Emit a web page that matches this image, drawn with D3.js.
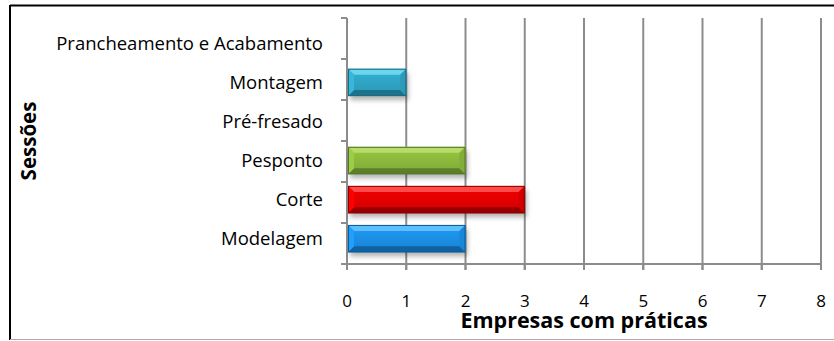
<!DOCTYPE html>
<html>
<head>
<meta charset="utf-8">
<script src="https://cdn.jsdelivr.net/npm/d3@7"></script>
<style>
  html, body { margin: 0; padding: 0; background: #fff; }
  svg { display: block; }
  text { font-family: "Open Sans", Lato, sans-serif; fill: #000; }
</style>
</head>
<body>
<svg id="chart" width="834" height="341"></svg>
<script>
// Sessions, bottom to top
const categories = ["Modelagem", "Corte", "Pesponto", "Pré-fresado", "Montagem", "Prancheamento e Acabamento"];
const values = [2, 3, 2, 0, 1, 0];
const faceColors = ["#1b8de2", "#df0000", "#8ab63b", "#888888", "#2fa2c2", "#888888"];
const lightColors = ["#5cc0ff", "#ff4a4a", "#b6dc6a", "#bbbbbb", "#6ad6ee", "#bbbbbb"];
const darkColors = ["#0f5a99", "#8c0000", "#56772a", "#555555", "#1c6b82", "#555555"];
const xTicks = [0, 1, 2, 3, 4, 5, 6, 7, 8];
const xTitle = "Empresas com práticas";
const yTitle = "Sessões";

const svg = d3.select("#chart");

// frame of the chart area
svg.append("line").attr("x1", 10).attr("x2", 834).attr("y1", 5.5).attr("y2", 5.5)
  .attr("stroke", "#000").attr("stroke-width", 2);
svg.append("line").attr("x1", 10).attr("x2", 10).attr("y1", 5).attr("y2", 340)
  .attr("stroke", "#000").attr("stroke-width", 2);
svg.append("line").attr("x1", 10).attr("x2", 834).attr("y1", 339.5).attr("y2", 339.5)
  .attr("stroke", "#aaa").attr("stroke-width", 1);

const pLeft = 347, pRight = 821, pTop = 18, pBottom = 264;

const x = d3.scaleLinear().domain([0, 8]).range([pLeft, pRight]);
const y = d3.scaleBand().domain(categories.slice().reverse()).range([pTop, pBottom]).padding(0.3);
const yEdges = d3.scaleLinear().domain([0, categories.length]).range([pBottom, pTop]);

const defs = svg.append("defs");
const shadow = defs.append("filter").attr("id", "shadow")
  .attr("x", "-10%").attr("y", "-20%").attr("width", "130%").attr("height", "180%");
shadow.append("feGaussianBlur").attr("in", "SourceAlpha").attr("stdDeviation", 2.5);
shadow.append("feOffset").attr("dx", 2).attr("dy", 4).attr("result", "off");
shadow.append("feComponentTransfer").append("feFuncA").attr("type", "linear").attr("slope", 0.3);

// gridlines
svg.append("g").selectAll("line").data(xTicks.filter(d => d > 0)).join("line")
  .attr("x1", d => x(d)).attr("x2", d => x(d))
  .attr("y1", pTop).attr("y2", pBottom + 6)
  .attr("stroke", "#8c8c8c").attr("stroke-width", 2);

// value axis line and ticks
svg.append("line").attr("x1", pLeft - 6).attr("x2", pRight + 1).attr("y1", pBottom).attr("y2", pBottom)
  .attr("stroke", "#8c8c8c").attr("stroke-width", 2);
svg.append("g").selectAll("line").data(xTicks).join("line")
  .attr("x1", d => x(d)).attr("x2", d => x(d)).attr("y1", pBottom).attr("y2", pBottom + 6)
  .attr("stroke", "#8c8c8c").attr("stroke-width", 2);

// category axis line and ticks
svg.append("line").attr("x1", pLeft).attr("x2", pLeft).attr("y1", pTop).attr("y2", pBottom + 6)
  .attr("stroke", "#8c8c8c").attr("stroke-width", 2);
svg.append("g").selectAll("line").data(d3.range(categories.length + 1)).join("line")
  .attr("x1", pLeft - 6).attr("x2", pLeft).attr("y1", d => yEdges(d)).attr("y2", d => yEdges(d))
  .attr("stroke", "#8c8c8c").attr("stroke-width", 2);

// beveled bars
const data = categories.map((c, i) => ({ c, v: values[i], i }));
const bars = svg.append("g").selectAll("g").data(data.filter(d => d.v > 0)).join("g");
const bev = 6;

bars.append("rect")
  .attr("x", pLeft + 1).attr("y", d => y(d.c))
  .attr("width", d => x(d.v) - pLeft - 1).attr("height", y.bandwidth())
  .attr("fill", "#000").attr("filter", "url(#shadow)");

bars.each(function (d) {
  const g = d3.select(this);
  const x0 = pLeft + 1, x1 = x(d.v), y0 = y(d.c), y1 = y(d.c) + y.bandwidth();
  const gid = "face" + d.i;
  const lg = defs.append("linearGradient").attr("id", gid).attr("x1", 0).attr("x2", 0).attr("y1", 0).attr("y2", 1);
  lg.append("stop").attr("offset", "0%").attr("stop-color", d3.color(faceColors[d.i]).brighter(0.25));
  lg.append("stop").attr("offset", "100%").attr("stop-color", d3.color(faceColors[d.i]).darker(0.2));

  // face
  g.append("rect").attr("x", x0).attr("y", y0).attr("width", x1 - x0).attr("height", y1 - y0)
    .attr("fill", `url(#${gid})`);
  // top bevel
  g.append("polygon").attr("points", [[x0, y0], [x1, y0], [x1 - bev, y0 + bev], [x0 + bev, y0 + bev]].join(" "))
    .attr("fill", lightColors[d.i]);
  // bottom bevel
  g.append("polygon").attr("points", [[x0, y1], [x1, y1], [x1 - bev, y1 - bev], [x0 + bev, y1 - bev]].join(" "))
    .attr("fill", darkColors[d.i]).attr("opacity", 0.85);
  // side bevels
  g.append("polygon").attr("points", [[x0, y0], [x0 + bev, y0 + bev], [x0 + bev, y1 - bev], [x0, y1]].join(" "))
    .attr("fill", d3.color(faceColors[d.i]).brighter(0.35));
  g.append("polygon").attr("points", [[x1, y0], [x1 - bev, y0 + bev], [x1 - bev, y1 - bev], [x1, y1]].join(" "))
    .attr("fill", d3.color(faceColors[d.i]).darker(0.15));
  // outline
  g.append("rect").attr("x", x0 + 0.5).attr("y", y0 + 0.5).attr("width", x1 - x0 - 1).attr("height", y1 - y0 - 1)
    .attr("fill", "none").attr("stroke", darkColors[d.i]).attr("stroke-width", 1);
});

// category labels
svg.append("g").selectAll("text").data(categories).join("text")
  .attr("x", 323).attr("y", d => y(d) + y.bandwidth() / 2 + 6.5)
  .attr("text-anchor", "end")
  .style("font-size", "18.5px").text(d => d);

// value labels
svg.append("g").selectAll("text").data(xTicks).join("text")
  .attr("x", d => x(d)).attr("y", 307).attr("text-anchor", "middle")
  .style("font-size", "17px").text(d => d);

// axis titles
svg.append("text").attr("x", 584).attr("y", 328).attr("text-anchor", "middle")
  .style("font-size", "21.5px").style("font-weight", "bold").text(xTitle);
svg.append("text").attr("transform", "translate(36,141) rotate(-90)")
  .attr("text-anchor", "middle").style("font-size", "20.5px").style("font-weight", "bold").text(yTitle);
</script>
</body>
</html>
